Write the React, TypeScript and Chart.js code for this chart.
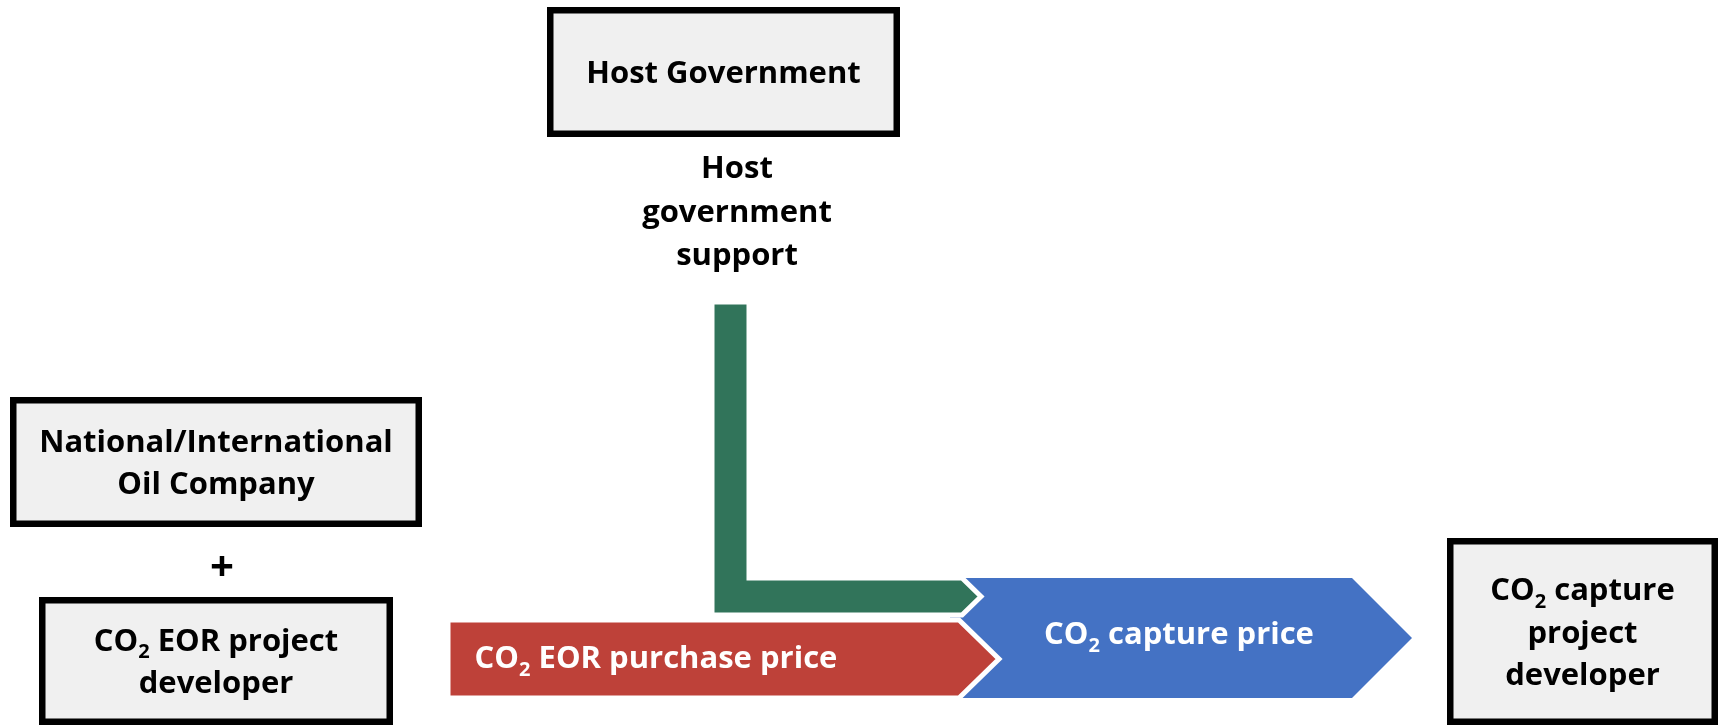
import React, { useEffect, useRef } from "react";
import { Chart, registerables } from "chart.js";

Chart.register(...registerables);

// ---- Diagram data (in diagram units; the axes run 0..1719 across, 0..725 down) ----
const boxLabels: string[][] = [
  ["Host Government"],
  ["National/International", "Oil Company"],
  ["CO_2 EOR project", "developer"],
  ["CO_2 capture", "project", "developer"],
];
const boxLeft = [547, 10, 39, 1447];
const boxRight = [900, 422, 393, 1718];
const boxTop = [7, 397, 597, 538];
const boxBottom = [137, 527, 725, 725];

// Flows: 0 = CO2 capture price (blue), 1 = CO2 EOR purchase price (red), 2 = host government support (green)
const flowLabels = ["CO_2 capture price", "CO_2 EOR purchase price", ""];
const flowStart = [950, 448, 712];
const flowShoulder = [1352, 959, 962];
const flowTip = [1412, 999, 981];
const flowTop = [578, 620, 578];
const flowBottom = [698, 698, 615];
const flowLabelX = [1179, 656, 0];
const flowLabelY = [633, 657, 0];

// Green support riser
const supportRiserTop = 302;
const supportRiserRight = 749;
const supportLabel = ["Host", "government", "support"];
const supportLabelX = 737;
const supportLabelY = [167, 211, 254];

const plusLabel = "+";
const plusX = 222;
const plusY = 565;

const FONT = '"Open Sans", "DejaVu Sans", sans-serif';
const SIZE = 31;
const PLUS_SIZE = 42;
const LINE = 42.5;

function segments(line: string) {
  const out: { t: string; sub: boolean }[] = [];
  let buf = "";
  for (let i = 0; i < line.length; i++) {
    if (line[i] === "_" && i + 1 < line.length) {
      if (buf) out.push({ t: buf, sub: false });
      buf = "";
      out.push({ t: line[i + 1], sub: true });
      i++;
    } else buf += line[i];
  }
  if (buf) out.push({ t: buf, sub: false });
  return out;
}

// draws a line of text centered at cx with its cap-height middle at cy
function drawRich(ctx: CanvasRenderingContext2D, line: string, cx: number, cy: number, size: number, color: string) {
  const segs = segments(line);
  const fMain = `bold ${size}px ${FONT}`;
  const fSub = `bold ${Math.round(size * 0.66)}px ${FONT}`;
  const widths = segs.map((s) => {
    ctx.font = s.sub ? fSub : fMain;
    return ctx.measureText(s.t).width;
  });
  const total = widths.reduce((a, b) => a + b, 0);
  const baseline = cy + (size * 0.714) / 2;
  let x = cx - total / 2;
  ctx.fillStyle = color;
  ctx.textAlign = "left";
  ctx.textBaseline = "alphabetic";
  segs.forEach((s, i) => {
    ctx.font = s.sub ? fSub : fMain;
    ctx.fillText(s.t, x, s.sub ? baseline + size * 0.24 : baseline);
    x += widths[i];
  });
}

const diagramPlugin = {
  id: "diagram",
  afterDatasetsDraw(chart: any) {
    const { ctx } = chart;
    const xs = chart.scales.x;
    const ys = chart.scales.y;
    const X = (v: number) => xs.getPixelForValue(v);
    const Y = (v: number) => ys.getPixelForValue(v);
    ctx.save();

    // Boxes
    boxLabels.forEach((lines, i) => {
      const bw = 6.5;
      const x0 = X(boxLeft[i]) + bw / 2;
      const x1 = X(boxRight[i]) - bw / 2;
      const y0 = Y(boxTop[i]) + bw / 2;
      const y1 = Y(boxBottom[i]) - bw / 2;
      ctx.fillStyle = "#f0f0f0";
      ctx.fillRect(x0, y0, x1 - x0, y1 - y0);
      ctx.strokeStyle = "#000000";
      ctx.lineWidth = bw;
      ctx.lineJoin = "miter";
      ctx.strokeRect(x0, y0, x1 - x0, y1 - y0);
      const cx = (X(boxLeft[i]) + X(boxRight[i])) / 2;
      const cy = (Y(boxTop[i]) + Y(boxBottom[i])) / 2;
      const n = lines.length;
      lines.forEach((l, j) => {
        drawRich(ctx, l, cx, cy + (j - (n - 1) / 2) * LINE, SIZE, "#000000");
      });
    });

    // Flow arrows
    const colors = ["#4472c4", "#be4139", "#31745a"];
    const order = [0, 2, 1];
    order.forEach((i) => {
      const top = Y(flowTop[i]);
      const bot = Y(flowBottom[i]);
      const mid = (top + bot) / 2;
      ctx.beginPath();
      if (i === 2) {
        ctx.moveTo(X(flowStart[i]), Y(supportRiserTop));
        ctx.lineTo(X(supportRiserRight), Y(supportRiserTop));
        ctx.lineTo(X(supportRiserRight), top);
      } else {
        ctx.moveTo(X(flowStart[i]), top);
      }
      ctx.lineTo(X(flowShoulder[i]), top);
      ctx.lineTo(X(flowTip[i]), mid);
      ctx.lineTo(X(flowShoulder[i]), bot);
      ctx.lineTo(X(flowStart[i]), bot);
      ctx.closePath();
      ctx.fillStyle = colors[i];
      ctx.fill();
      if (i !== 0) {
        ctx.strokeStyle = "#ffffff";
        ctx.lineWidth = 5;
        ctx.lineJoin = "miter";
        ctx.stroke();
      }
      if (flowLabels[i]) {
        drawRich(ctx, flowLabels[i], X(flowLabelX[i]), Y(flowLabelY[i]), SIZE, "#ffffff");
      }
    });

    // Support label
    supportLabel.forEach((l, j) => {
      drawRich(ctx, l, X(supportLabelX), Y(supportLabelY[j]), SIZE, "#000000");
    });

    // Plus sign
    ctx.font = `bold ${PLUS_SIZE}px ${FONT}`;
    const m = ctx.measureText(plusLabel);
    ctx.fillStyle = "#000000";
    ctx.textAlign = "center";
    ctx.textBaseline = "alphabetic";
    ctx.fillText(plusLabel, X(plusX), Y(plusY) + (m.actualBoundingBoxAscent - m.actualBoundingBoxDescent) / 2);

    ctx.restore();
  },
};

export default function App() {
  const ref = useRef<HTMLCanvasElement | null>(null);
  useEffect(() => {
    document.body.style.margin = "0";
    const canvas = ref.current;
    if (!canvas) return;
    const chart = new Chart(canvas, {
      type: "scatter",
      data: {
        datasets: [
          {
            data: boxLabels.map((_, i) => ({ x: (boxLeft[i] + boxRight[i]) / 2, y: (boxTop[i] + boxBottom[i]) / 2 })),
            pointRadius: 0,
            showLine: false,
          },
        ],
      },
      options: {
        responsive: false,
        animation: false,
        events: [],
        layout: { padding: 0 },
        plugins: { legend: { display: false }, tooltip: { enabled: false } },
        scales: {
          x: { type: "linear", min: 0, max: 1719, display: false },
          y: { type: "linear", min: 0, max: 725, reverse: true, display: false },
        },
      },
      plugins: [diagramPlugin],
    });
    return () => chart.destroy();
  }, []);
  return (
    <div style={{ width: 1719, height: 725, background: "#ffffff" }}>
      <canvas ref={ref} width={1719} height={725} style={{ display: "block" }} />
    </div>
  );
}
